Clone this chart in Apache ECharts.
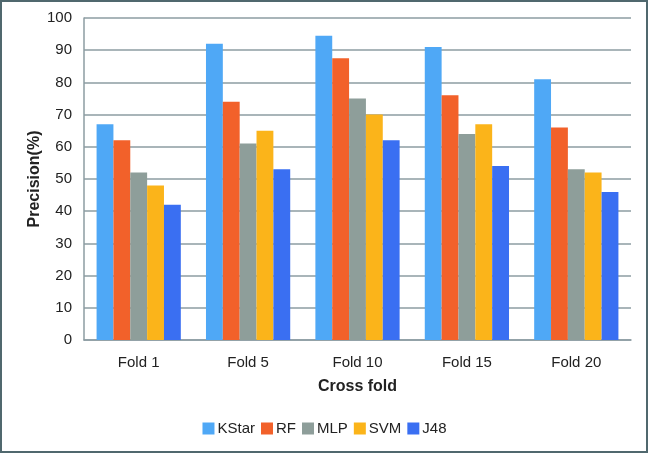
<!DOCTYPE html>
<html>
<head>
<meta charset="utf-8">
<script src="https://cdn.jsdelivr.net/npm/echarts@6/dist/echarts.min.js"></script>
<style>
html,body{margin:0;padding:0;background:#fff;}
#c{width:649px;height:454px;}
</style>
</head>
<body>
<div id="c"></div>
<script>
const categories = ['Fold 1', 'Fold 5', 'Fold 10', 'Fold 15', 'Fold 20'];
const kstar = [67, 92, 94.5, 91, 81];
const rf = [62, 74, 87.5, 76, 66];
const mlp = [52, 61, 75, 64, 53];
const svm = [48, 65, 70, 67, 52];
const j48 = [42, 53, 62, 54, 46];
const seriesNames = ['KStar', 'RF', 'MLP', 'SVM', 'J48'];
const colors = ['#4fa8f6', '#f2612a', '#8e9e9a', '#fbb41a', '#3a6ff2'];
const allData = [kstar, rf, mlp, svm, j48];

const chart = echarts.init(document.getElementById('c'));
const font = 'Liberation Sans, Arial, Helvetica, sans-serif';
chart.setOption({
  animation: false,
  color: colors,
  textStyle: { fontFamily: font },
  graphic: [{
    type: 'rect',
    shape: { x: 1, y: 1, width: 646, height: 451 },
    style: { fill: 'none', stroke: '#50686e', lineWidth: 2 },
    silent: true
  }],
  grid: { left: 84, right: 18, top: 18, bottom: 114 },
  legend: {
    data: seriesNames,
    bottom: 13,
    left: 'center',
    itemWidth: 12,
    itemHeight: 12,
    itemGap: 6,
    icon: 'rect',
    textStyle: { fontSize: 15, color: '#222', fontFamily: font, padding: [0, 0, 0, -2] }
  },
  xAxis: {
    type: 'category',
    data: categories,
    name: 'Cross fold',
    nameLocation: 'middle',
    nameGap: 39,
    nameMoveOverlap: false,
    nameTextStyle: { fontSize: 16, fontWeight: 'bold', color: '#222', fontFamily: font },
    axisLine: { lineStyle: { color: '#8c9ca2', width: 1.5 } },
    axisTick: { show: false },
    axisLabel: { fontSize: 15, color: '#222', margin: 15, fontFamily: font }
  },
  yAxis: {
    type: 'value',
    min: 0, max: 100, interval: 10,
    name: 'Precision(%)',
    nameLocation: 'middle',
    nameGap: 41,
    nameMoveOverlap: false,
    nameTextStyle: { fontSize: 16, fontWeight: 'bold', color: '#222', fontFamily: font },
    axisLine: { show: true, lineStyle: { color: '#8c9ca2', width: 1.5 } },
    axisTick: { show: false },
    splitLine: { lineStyle: { color: '#8c9ca2', width: 1.5 } },
    axisLabel: { fontSize: 15, color: '#222', margin: 12, fontFamily: font }
  },
  series: seriesNames.map((n, i) => ({
    name: n,
    type: 'bar',
    data: allData[i],
    barGap: '0%',
    barCategoryGap: '23%',
    itemStyle: { color: colors[i] }
  }))
});
</script>
</body>
</html>
